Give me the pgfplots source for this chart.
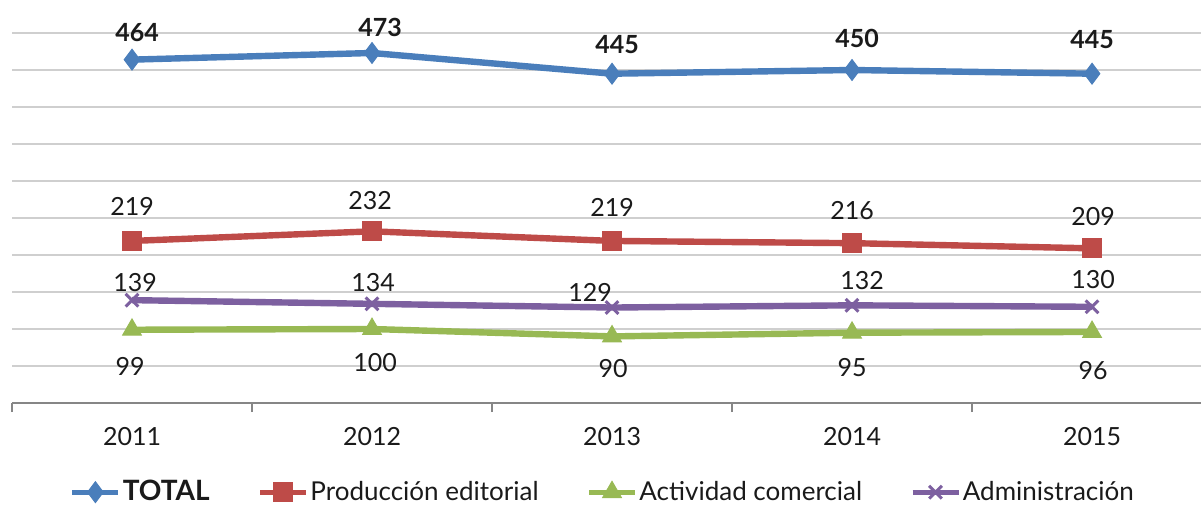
\documentclass[border=0pt]{standalone}
\usepackage{pgfplots}
\pgfplotsset{compat=1.18}
\usepackage{pgfplotstable}
\usepackage{fontspec}
\setmainfont{Lato}
\definecolor{cblue}{HTML}{4A7EBB}
\definecolor{cred}{HTML}{BE4B48}
\definecolor{cgreen}{HTML}{98B954}
\definecolor{cpurple}{HTML}{7D60A0}
\definecolor{gridc}{HTML}{CFCFCF}
\definecolor{axc}{HTML}{868686}
\definecolor{txt}{HTML}{1A1A1A}

\pgfplotstableread{
x y dx dy
0 464 2.5 13.3
1 473 4 13
2 445 2.5 14.4
3 450 2.5 16
4 445 0 17
}\total
\pgfplotstableread{
x y dx dy
0 219 0 17
1 232 -1 15.5
2 219 0 16.5
3 216 0 16.5
4 209 0.5 16
}\prod
\pgfplotstableread{
x y dx dy
0 99 -1 -18.5
1 100 1.5 -17
2 90 0.5 -16
3 95 0 -17.5
4 96 0.5 -19.5
}\activ
\pgfplotstableread{
x y dx dy
0 139 1.5 9
1 134 0.5 10.5
2 129 -11 7.5
3 132 5 12.5
4 130 0.5 13.5
}\admin

\pgfplotsset{
  lbl/.style={
    nodes near coords,
    visualization depends on={\thisrow{dx}\as\labdx},
    visualization depends on={\thisrow{dy}\as\labdy},
    every node near coord/.append style={font=\fontsize{12.5}{14}\selectfont #1, text=txt, anchor=center, xshift=\labdx pt, yshift=\labdy pt},
  },
}

\begin{document}
\begin{tikzpicture}
\begin{axis}[
  at={(0,0)}, anchor=south west,
  scale only axis, width=594.5pt, height=185pt,
  xmin=-0.5, xmax=4.454, ymin=0, ymax=500,
  clip=false,
  axis x line*=bottom, axis y line*=left,
  y axis line style={draw=none},
  x axis line style={draw=axc, line width=0.8pt, -},
  xtick={0,1,2,3,4},
  xticklabels={2011,2012,2013,2014,2015},
  minor xtick={-0.5,0.5,1.5,2.5,3.5},
  tick align=outside,
  major tick length=0pt,
  minor tick length=4.5pt,
  every minor tick/.style={draw=axc, line width=0.8pt},
  ytick={0,50,...,500},
  yticklabels={},
  ytick style={draw=none},
  ymajorgrids,
  grid style={draw=gridc, line width=0.8pt},
  xticklabel style={font=\fontsize{12.5}{14}\selectfont, text=txt, anchor=center, yshift=-17pt},
  /pgf/number format/assume math mode=true,
  legend columns=4,
  legend style={draw=none, fill=none, at={(0.497,-0.241)}, anchor=center,
    font=\fontsize{13}{15}\selectfont, text=txt,
    /tikz/every even column/.append style={column sep=23pt},
    nodes={inner xsep=1pt, inner ysep=0pt}},
  legend image code/.code={%
    \draw[mark repeat=2,mark phase=2,#1,line width=2.4pt] plot coordinates {(0pt,0pt) (11.5pt,0pt) (23pt,0pt)};},
]
\addplot[color=cblue, line width=3.2pt, mark=diamond*, mark size=5.2pt, mark options={solid, line width=0.5pt},
  lbl=\bfseries] table[x=x,y=y] {\total};
\addlegendentry{\fontsize{14}{15}\selectfont\textbf{TOTAL}}
\addplot[color=cred, line width=3.2pt, mark=square*, mark size=4.8pt, mark options={solid, line width=0.5pt}, lbl=] table[x=x,y=y] {\prod};
\addlegendentry{Producción editorial}
\addplot[color=cgreen, line width=3.2pt, mark=triangle*, mark size=5.4pt, mark options={solid, line width=0.5pt}, lbl=] table[x=x,y=y] {\activ};
\addlegendentry{Actividad comercial}
\addplot[color=cpurple, line width=3.2pt, mark=x, mark size=4.5pt, mark options={solid, line width=1.5pt}, lbl=] table[x=x,y=y] {\admin};
\addlegendentry{Administración}
\end{axis}
\pgfresetboundingbox
\path (-6pt,-50.5pt) rectangle (594.5pt,201.5pt);
\end{tikzpicture}
\end{document}
